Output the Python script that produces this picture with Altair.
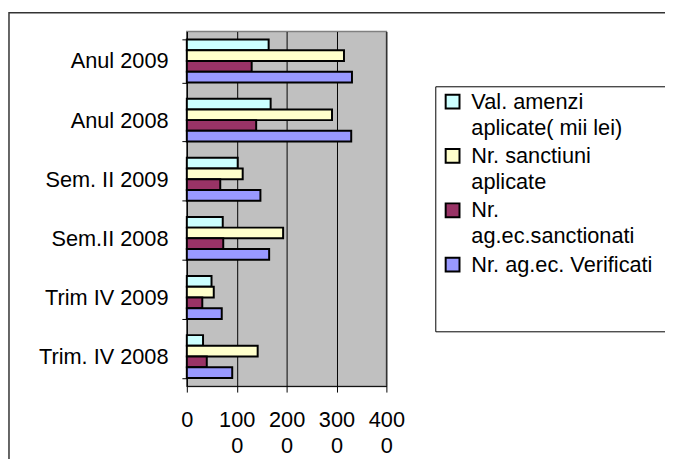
import altair as alt
import pandas as pd

categories = ["Anul 2009", "Anul 2008", "Sem. II 2009", "Sem.II 2008", "Trim IV 2009", "Trim. IV 2008"]
series = ["Val. amenzi aplicate( mii lei)", "Nr. sanctiuni aplicate", "Nr. ag.ec.sanctionati", "Nr. ag.ec. Verificati"]
legend_lines = [["Val. amenzi", "aplicate( mii lei)"], ["Nr. sanctiuni", "aplicate"], ["Nr.", "ag.ec.sanctionati"], ["Nr. ag.ec. Verificati"]]
val_amenzi = [1640, 1680, 1020, 720, 495, 325]
nr_sanctiuni = [3150, 2910, 1120, 1930, 540, 1420]
nr_sanctionati = [1300, 1390, 670, 730, 310, 400]
nr_verificati = [3310, 3295, 1475, 1650, 700, 910]
colors = ["#CCFFFF", "#FFFFCC", "#993366", "#9999FF"]
x_ticks = [0, 1000, 2000, 3000, 4000]

rows = []
for s, vals in zip(series, [val_amenzi, nr_sanctiuni, nr_sanctionati, nr_verificati]):
    for c, v in zip(categories, vals):
        rows.append({"cat": c, "series": s, "value": v})
df = pd.DataFrame(rows)

FONT = "Liberation Sans"
FS = 22

def arr(lines):
    return "[" + ", ".join("'" + l + "'" for l in lines) + "]"

legend_expr = "datum.label"
for s, lines in reversed(list(zip(series, legend_lines))):
    legend_expr = f"datum.label == '{s}' ? {arr(lines)} : ({legend_expr})"

x_label_expr = "datum.value == 0 ? '0' : [slice(datum.label, 0, 3), slice(datum.label, 3)]"

bars = alt.Chart(df).mark_bar(stroke="black", strokeWidth=2).encode(
    x=alt.X("value:Q", scale=alt.Scale(domain=[0, 4000], nice=False),
            axis=alt.Axis(values=x_ticks, format="d", labelExpr=x_label_expr, title=None,
                          grid=True, gridColor="black", gridWidth=1,
                          domainColor="black", tickColor="black", tickSize=6,
                          labelFont=FONT, labelFontSize=FS, labelColor="black",
                          labelPadding=18, labelLineHeight=26, labelBaseline="top",
                          labelFlush=False, labelOverlap=False)),
    y=alt.Y("cat:N", sort=categories, scale=alt.Scale(paddingInner=0.274, paddingOuter=0.137),
            axis=alt.Axis(title=None, tickBand="extent", domainColor="black", tickColor="black",
                          tickSize=5, labelFont=FONT, labelFontSize=FS, labelColor="black",
                          labelPadding=14, labelLimit=200)),
    yOffset=alt.YOffset("series:N", sort=series, scale=alt.Scale(paddingInner=0, paddingOuter=0)),
    color=alt.Color("series:N", sort=series, scale=alt.Scale(domain=series, range=colors),
                    legend=alt.Legend(title=None, orient="none", legendX=258, legendY=60,
                                      symbolType="square", symbolSize=196,
                                      symbolStrokeColor="black", symbolStrokeWidth=2,
                                      symbolOpacity=1, labelFont=FONT, labelFontSize=FS,
                                      labelColor="black", labelExpr=legend_expr, labelLimit=400,
                                      labelOffset=8, padding=0, rowPadding=6)),
)

one = pd.DataFrame({"a": [0]})
outer = alt.Chart(one).mark_rect(fill="transparent", stroke="#333333", strokeWidth=1.5).encode(
    x=alt.value(-180), x2=alt.value(600), y=alt.value(-19), y2=alt.value(600))
legbox = alt.Chart(one).mark_rect(fill="white", stroke="black", strokeWidth=1).encode(
    x=alt.value(252), x2=alt.value(600), y=alt.value(56), y2=alt.value(304))

chart = alt.layer(outer, legbox, bars).properties(
    width=202, height=359,
    autosize=alt.AutoSizeParams(type="none"),
    padding={"left": 181, "top": 21, "right": 282, "bottom": 71},
).configure(
    background="white",
    view=alt.ViewConfig(fill="#C0C0C0", stroke="#808080", strokeWidth=1.5),
    style={"guide-label": {"lineHeight": 26.5}},
)

chart.save("out.html", embed_options={"renderer": "svg", "actions": False})
